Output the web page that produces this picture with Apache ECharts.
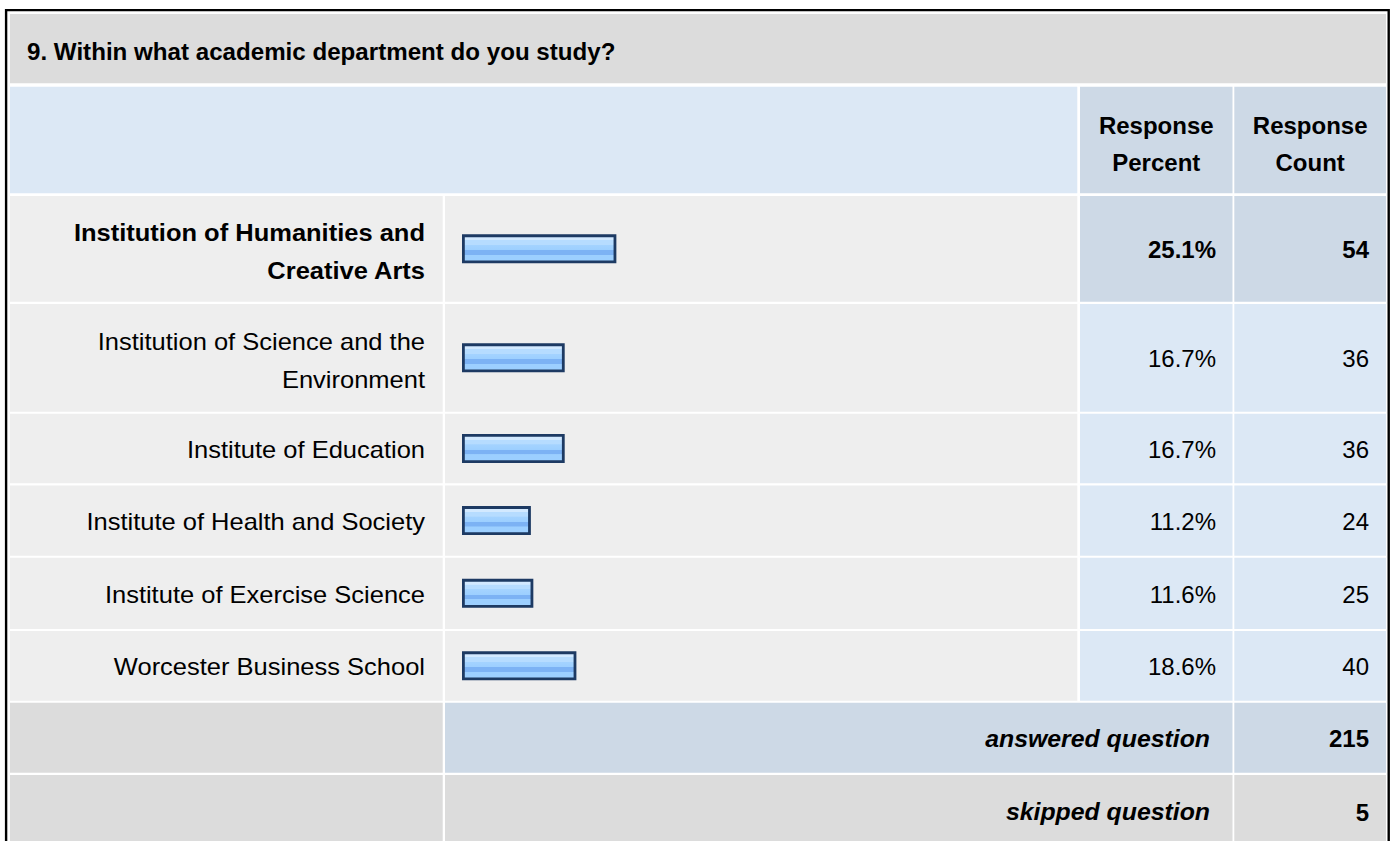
<!DOCTYPE html>
<html><head><meta charset="utf-8">
<script src="https://cdn.jsdelivr.net/npm/echarts@6/dist/echarts.min.js"></script>
<style>html,body{margin:0;padding:0;background:#fff;overflow:hidden}#c{width:1391px;height:841px}</style>
</head><body><div id="c"></div>
<script>
// ---- data ----
const questionTitle = '9. Within what academic department do you study?';
const headerLabels = ['Response\nPercent', 'Response\nCount'];
const categories = [
  'Institution of Humanities and\nCreative Arts',
  'Institution of Science and the\nEnvironment',
  'Institute of Education',
  'Institute of Health and Society',
  'Institute of Exercise Science',
  'Worcester Business School'
];
const percents = [25.1, 16.7, 16.7, 11.2, 11.6, 18.6];
const counts = [54, 36, 36, 24, 25, 40];
const highlighted = [true, false, false, false, false, false];
const summaryLabels = ['answered question', 'skipped question'];
const summaryValues = [215, 5];

// ---- layout ----
const FONT = '"Liberation Sans", Arial, Helvetica, sans-serif';
const FS = 24;
const COL = {L0: 10, L1: 442.7, B0: 445, B1: 1077.3, P0: 1080, P1: 1232.5, C0: 1234.3, C1: 1386};
const TITLE = [14, 83.3], HEAD = [86.7, 193.3];
const rowTops = [196, 304, 413.7, 485.5, 557.7, 631];
const rowBots = [301.7, 411.7, 483.3, 555.7, 629, 700.7];
const sumTops = [702.7, 775], sumBots = [772.7, 850];
const C_GRAY = '#dcdcdc', C_ROW = '#eeeeee', C_LB = '#dce8f5', C_BG = '#cdd9e6';

const g = [];
function rect(x0, y0, x1, y1, fill) {
  g.push({type: 'rect', z: 0, silent: true, shape: {x: x0, y: y0, width: x1 - x0, height: y1 - y0}, style: {fill: fill}});
}
function text(str, x, y, align, weight, italic, lh, sx) {
  g.push({type: 'text', z: 5, silent: true, x: x, y: y, scaleX: sx || 1, style: {
    text: str, x: 0, y: 0, fill: '#000', align: align, verticalAlign: 'middle',
    font: (italic ? 'italic ' : '') + (weight || 'normal') + ' ' + FS + 'px ' + FONT,
    lineHeight: lh || 37
  }});
}
// outer border
g.push({type: 'rect', z: 1, silent: true, shape: {x: 6.1, y: 10.1, width: 1382.6, height: 900}, style: {fill: null, stroke: '#000', lineWidth: 2.4}});
// title
rect(COL.L0, TITLE[0], COL.C1, TITLE[1], C_GRAY);
text(questionTitle, 27, 52, 'left', 'bold', false, 37, 1.006);
// header
rect(COL.L0, HEAD[0], COL.B1, HEAD[1], C_LB);
rect(COL.P0, HEAD[0], COL.P1, HEAD[1], C_BG);
rect(COL.C0, HEAD[0], COL.C1, HEAD[1], C_BG);
text(headerLabels[0], (COL.P0 + COL.P1) / 2, 143.5, 'center', 'bold');
text(headerLabels[1], (COL.C0 + COL.C1) / 2, 143.5, 'center', 'bold');
// data rows
categories.forEach((c, i) => {
  const t = rowTops[i], b = rowBots[i], m = (t + b) / 2;
  const cellFill = highlighted[i] ? C_BG : C_LB;
  const w = highlighted[i] ? 'bold' : 'normal';
  rect(COL.L0, t, COL.L1, b, C_ROW);
  rect(COL.B0, t, COL.B1, b, C_ROW);
  rect(COL.P0, t, COL.P1, b, cellFill);
  rect(COL.C0, t, COL.C1, b, cellFill);
  const multi = c.indexOf('\n') >= 0;
  text(c, 425, m + (multi ? 2.5 : 1), 'right', w, false, 38, 1.062);
  text(percents[i].toFixed(1) + '%', 1216, m + 1, 'right', w);
  text(String(counts[i]), 1369, m + 1, 'right', w);
});
// summary rows
summaryLabels.forEach((s, i) => {
  const t = sumTops[i], b = sumBots[i];
  const fill = i === 0 ? C_BG : C_GRAY;
  const m = i === 0 ? (t + b) / 2 + 1 : 812;
  rect(COL.L0, t, COL.L1, b, C_GRAY);
  rect(COL.B0, t, COL.P1, b, fill);
  rect(COL.C0, t, COL.C1, b, fill);
  text(s, 1210, m, 'right', 'bold', true, 37, 1.035);
  text(String(summaryValues[i]), 1369, m, 'right', 'bold');
});

// ---- bars: one grid per table row ----
const barFill = new echarts.graphic.LinearGradient(0, 0, 0, 1, [
  {offset: 0, color: '#d2e9ff'}, {offset: 0.16, color: '#d2e9ff'},
  {offset: 0.17, color: '#b6dcff'}, {offset: 0.34, color: '#b6dcff'},
  {offset: 0.35, color: '#a4d3ff'}, {offset: 0.55, color: '#9ccfff'},
  {offset: 0.56, color: '#7cb2f4'}, {offset: 0.72, color: '#7cb2f4'},
  {offset: 0.73, color: '#9ccfff'}, {offset: 1, color: '#9ccfff'}
]);
const grids = [], xAxes = [], yAxes = [], series = [];
categories.forEach((c, i) => {
  grids.push({left: 462, width: 615, top: rowTops[i], height: rowBots[i] - rowTops[i], outerBoundsMode: 'none', containLabel: false});
  xAxes.push({gridIndex: i, type: 'value', min: 0, max: 100, show: false});
  yAxes.push({gridIndex: i, type: 'category', data: [c], show: false});
  series.push({type: 'bar', xAxisIndex: i, yAxisIndex: i, data: [percents[i]], barWidth: 29,
    silent: true, z: 3,
    itemStyle: {color: barFill, borderColor: '#1d3a63', borderWidth: 2.8}});
});

const chart = echarts.init(document.getElementById('c'), null, {renderer: 'svg'});
chart.setOption({
  animation: false,
  backgroundColor: '#fff',
  grid: grids, xAxis: xAxes, yAxis: yAxes, series: series,
  graphic: {elements: g}
});
</script></body></html>
